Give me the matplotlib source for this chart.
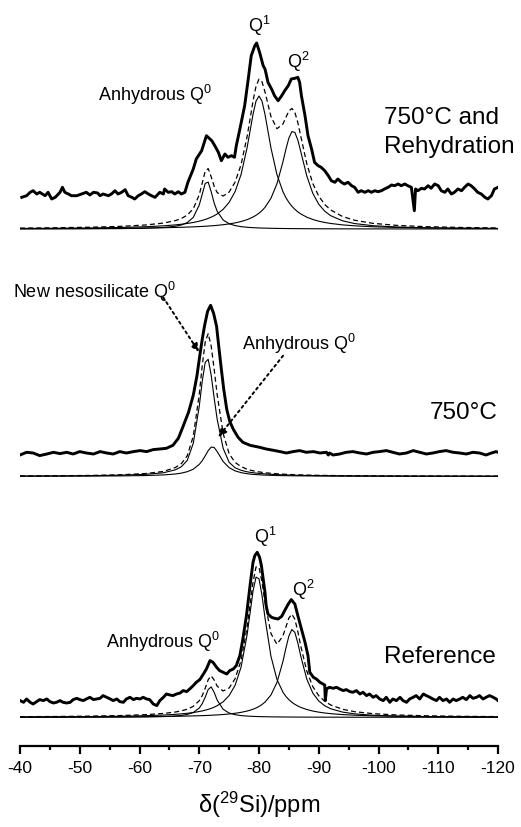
import matplotlib
matplotlib.use("Agg")
import matplotlib.pyplot as plt
from matplotlib.ticker import MultipleLocator

plt.rcParams['font.family'] = ['Liberation Sans', 'DejaVu Sans']
plt.rcParams['mathtext.fontset'] = 'custom'
plt.rcParams['mathtext.rm'] = 'Liberation Sans'
plt.rcParams['axes.unicode_minus'] = False

# ---------------- data (chemical shift in ppm, intensity in arbitrary units) ----------------
# common grid for the fitted curves
fit_ppm = [-40, -46, -52, -57, -61, -64, -66, -67, -68, -69, -70, -70.5, -71, -71.5, -72, -72.5,
           -73, -74, -75, -76, -77, -78, -78.5, -79, -79.5, -80, -80.5, -81, -82, -83, -84,
           -84.5, -85, -85.5, -86, -86.5, -87, -88, -89, -90, -91, -92, -94, -96, -99, -103,
           -108, -114, -120]

# --- 750 °C and rehydration ---
rehyd_exp_ppm = [-40.3, -41.1, -41.7, -42.2, -42.8, -43.3, -44.2, -44.7, -45.3, -45.9, -46.7, -47.1,
                 -47.5, -48.1, -48.6, -49.5, -50.3, -51.1, -51.7, -52.3, -53.0, -53.4, -53.9, -54.8,
                 -55.3, -55.9, -56.4, -57.0, -57.6, -58.1, -58.7, -59.2, -59.8, -60.3, -60.9, -61.5,
                 -62.0, -62.6, -63.4, -64.0, -64.2, -64.8, -65.4, -65.9, -66.5, -67.0, -67.6, -68.1,
                 -69.0, -69.5, -70.4, -71.2, -72.1, -72.6, -73.2, -73.7, -74.3, -74.8, -75.4, -75.9,
                 -76.2, -76.8, -77.6, -78.2, -78.7, -79.3, -79.6, -80.1, -80.7, -81.0, -81.2, -81.5,
                 -82.1, -82.6, -83.2, -83.8, -84.3, -84.9, -85.4, -86.0, -86.5, -86.8, -87.1, -87.7,
                 -88.2, -88.8, -89.3, -89.9, -90.4, -91.0, -91.6, -92.1, -92.7, -93.2, -93.8, -94.3,
                 -94.9, -95.5, -96.0, -96.6, -97.1, -97.7, -98.3, -98.8, -99.4, -99.9, -100.5, -101.0,
                 -101.6, -102.2, -102.7, -103.3, -103.8, -104.4, -104.9, -105.5, -106.0, -106.2,
                 -106.6, -107.2, -107.7, -108.3, -108.8, -109.4, -110.0, -110.5, -111.1, -111.6,
                 -112.2, -112.7, -113.3, -113.9, -114.4, -115.0, -115.5, -116.1, -116.6, -117.2,
                 -117.8, -118.3, -118.9, -119.4, -120.0]
rehyd_exp_int = [31.7, 33.3, 36.7, 38.3, 35, 36.7, 33.3, 36.7, 30, 31.7, 36.7, 41.7,
                 36.7, 35, 33.3, 33.3, 35, 36.7, 34, 36.7, 36, 33.3, 35, 33.3,
                 35, 38.3, 35, 36.7, 39.3, 33.3, 31.7, 30, 33.3, 35, 37.3, 35,
                 33.3, 31.7, 36.7, 35, 40, 36.7, 37.3, 35, 37.3, 35, 36.7, 46.7,
                 60, 70, 78.3, 93.3, 88.3, 83.3, 76.7, 68.3, 75, 71.7, 73.3, 71.7,
                 83.3, 100, 123.3, 150, 173.3, 183.3, 186, 176.7, 163.3, 160, 155, 146.7,
                 140, 133.3, 128.3, 133.3, 138.3, 143.3, 150, 150.7, 151.7, 146.7, 133.3, 113.3,
                 93.3, 80, 66.7, 63.3, 61.7, 58.3, 53.3, 48.3, 46.7, 50, 46.7, 45,
                 46.7, 43.3, 41.7, 36.7, 38.3, 36.7, 38.3, 36.7, 38.3, 37.3, 38.3, 40,
                 41.7, 44, 43.3, 45, 43.3, 45, 43.3, 41.7, 18.3, 40,
                 38.3, 40.7, 40, 43.3, 40.7, 45, 43.3, 38.3, 36.7, 40,
                 35, 36.7, 40, 38.3, 41.7, 45, 43.3, 40, 36.7, 35,
                 31.7, 30, 33.3, 40, 41.7]
rehyd_q0 = [0.08, 0.13, 0.22, 0.39, 0.75, 1.48, 2.73, 4.02, 6.45, 11.6, 24.0, 34.8, 45.6, 46.9, 37.2,
            25.9, 17.7, 9.0, 5.27, 3.41, 2.38, 1.74, 1.51, 1.33, 1.18, 1.05, 0.94, 0.85, 0.70, 0.59,
            0.50, 0.46, 0.43, 0.40, 0.37, 0.35, 0.33, 0.29, 0.26, 0.23, 0.21, 0.19, 0.16, 0.13, 0.11,
            0.08, 0.06, 0.04, 0.03]
rehyd_q1 = [0.52, 0.72, 1.05, 1.55, 2.26, 3.17, 4.11, 4.75, 5.54, 6.52, 7.82, 8.61, 9.53, 10.59, 11.83,
            13.3, 15.05, 19.7, 26.6, 37.4, 54.5, 81.1, 97.8, 114.7, 127.9, 133.0, 127.9, 114.7, 81.1,
            54.5, 37.4, 31.4, 26.6, 22.8, 19.7, 17.1, 15.05, 11.83, 9.53, 7.82, 6.52, 5.54, 4.11, 3.17,
            2.26, 1.55, 1.05, 0.72, 0.52]
rehyd_q2 = [0.29, 0.39, 0.54, 0.74, 0.99, 1.28, 1.55, 1.72, 1.92, 2.15, 2.43, 2.58, 2.75, 2.94, 3.16,
            3.39, 3.66, 4.28, 5.08, 6.10, 7.48, 9.34, 10.55, 11.98, 13.7, 15.8, 18.4, 21.6, 30.7, 45.2,
            67.0, 79.7, 90.9, 97.4, 96.6, 88.9, 77.2, 53.1, 35.7, 24.8, 17.8, 13.3, 8.15, 5.45, 3.34,
            2.0, 1.22, 0.76, 0.52]
rehyd_total = [0.89, 1.24, 1.81, 2.68, 4.0, 5.93, 8.39, 10.49, 13.91, 20.27, 34.25, 45.99, 57.88, 60.43,
               52.19, 42.59, 36.41, 32.98, 36.95, 46.91, 64.36, 92.18, 109.86, 128.01, 142.78, 149.85,
               147.24, 137.15, 112.5, 100.29, 104.9, 111.56, 117.93, 120.6, 116.67, 106.35, 92.58,
               65.22, 45.49, 32.85, 24.53, 19.03, 12.42, 8.75, 5.71, 3.63, 2.33, 1.52, 1.07]

# --- 750 °C ---
heat_exp_ppm = [-40.0, -41.1, -42.2, -43.3, -44.5, -45.6, -46.7, -47.8, -48.9, -50.0, -51.1, -52.3,
                -53.4, -54.5, -55.6, -56.7, -57.8, -59.0, -60.1, -61.2, -62.3, -63.4, -64.5, -65.6,
                -66.5, -67.3, -68.2, -69.0, -69.6, -70.1, -70.5, -70.9, -71.4, -71.9, -72.4, -72.9,
                -73.3, -73.7, -74.1, -74.6, -75.1, -75.7, -76.5, -77.3, -78.5, -80.1, -81.2, -82.4,
                -83.5, -84.6, -85.7, -86.8, -87.9, -89.1, -90.2, -91.3, -91.6, -91.8, -92.4, -93.5,
                -94.6, -95.7, -96.9, -98.0, -99.1, -100.2, -101.3, -102.4, -103.5, -104.7, -105.8,
                -106.9, -108.0, -109.1, -110.2, -111.3, -112.5, -113.6, -114.7, -115.8, -116.9,
                -118.0, -118.9, -119.7, -120.0]
heat_exp_int = [21.3, 24, 23.3, 20.7, 22.3, 24, 22.7, 24, 22.3, 24.7, 23.3, 22.3,
                24.7, 23.3, 22.3, 24.7, 23.3, 24.7, 25.7, 24.7, 26.7, 27.3, 28, 31,
                38, 50, 64, 81, 100, 121, 137, 151, 165, 171, 163, 150,
                128, 107, 87, 67, 55, 47, 39, 34, 31, 29, 27.3, 26,
                24.7, 23.3, 24.7, 25.7, 24, 24.7, 23.3, 24, 21.3, 23.3, 21.3, 22.3,
                24, 24.7, 23.3, 22.3, 24, 24.7, 25.7, 24, 22.3, 23.3, 25.7,
                24, 22.3, 23.3, 24.7, 25.7, 24, 23.3, 22.3, 24, 23.3,
                21.3, 23.3, 24.7, 24]
heat_neso = [0.24, 0.37, 0.64, 1.15, 2.0, 3.5, 6.5, 9.5, 16.0, 33.0, 70.0, 95.0, 114.0, 117.0, 101.0,
             78.0, 57.0, 28.0, 14.0, 8.5, 6.0, 4.5, 4.0, 3.6, 3.2, 2.9, 2.65, 2.4, 2.0, 1.7,
             1.46, 1.35, 1.26, 1.17, 1.09, 1.02, 0.96, 0.85, 0.76, 0.68, 0.61, 0.55, 0.46, 0.39, 0.31,
             0.24, 0.18, 0.13, 0.10]
heat_q0 = [0.09, 0.14, 0.23, 0.41, 0.75, 1.36, 2.30, 3.17, 4.6, 7.1, 11.9, 15.6, 20.5, 25.7, 29.2,
           28.8, 24.7, 14.8, 8.65, 5.42, 3.65, 2.60, 2.23, 1.94, 1.70, 1.50, 1.33, 1.19, 0.97, 0.80,
           0.67, 0.62, 0.57, 0.53, 0.50, 0.46, 0.43, 0.38, 0.34, 0.30, 0.27, 0.24, 0.20, 0.17, 0.13,
           0.10, 0.07, 0.05, 0.04]
heat_total = [0.33, 0.51, 0.87, 1.56, 2.75, 4.86, 8.8, 12.67, 20.6, 40.1, 81.9, 110.6, 134.5, 142.7,
              130.2, 106.8, 81.7, 42.8, 22.65, 13.9, 9.65, 7.1, 6.23, 5.54, 4.9, 4.4, 3.98, 3.59,
              2.97, 2.5, 2.13, 1.97, 1.83, 1.70, 1.59, 1.48, 1.39, 1.23, 1.10, 0.98, 0.88, 0.79,
              0.66, 0.56, 0.44, 0.34, 0.25, 0.18, 0.14]

# --- Reference ---
ref_exp_ppm = [-40.0, -40.6, -41.1, -41.7, -42.2, -42.8, -43.3, -43.9, -44.5, -45.0, -45.6, -46.1,
               -46.7, -47.2, -47.8, -48.4, -48.9, -49.5, -50.0, -50.6, -51.1, -51.7, -52.3, -52.8,
               -53.4, -53.9, -54.5, -55.1, -55.6, -56.2, -56.7, -57.3, -57.8, -58.4, -59.0, -59.5,
               -60.1, -60.6, -61.2, -61.7, -62.3, -62.9, -63.4, -64.0, -64.5, -65.1, -65.6, -66.2,
               -66.8, -67.3, -67.9, -68.4, -69.0, -69.5, -70.1, -70.7, -71.2, -71.8, -72.3, -72.9,
               -73.4, -74.0, -74.6, -75.1, -75.7, -76.2, -76.8, -77.3, -77.9, -78.5, -79.0, -79.3,
               -79.7, -80.1, -80.4, -80.7, -81.0, -81.2, -81.5, -82.1, -82.6, -83.2, -83.8, -84.3,
               -84.9, -85.4, -86.0, -86.5, -87.1, -87.7, -88.2, -88.5, -89.1, -89.6, -90.2, -90.7,
               -91.0, -91.1, -91.3, -91.8, -92.4, -93.0, -93.5, -94.1, -94.6, -95.2, -95.7, -96.3,
               -96.9, -97.4, -98.0, -98.5, -99.1, -99.6, -100.2, -100.8, -101.3, -101.9, -102.4,
               -103.0, -103.6, -104.1, -104.7, -105.2, -105.8, -106.3, -106.9, -107.5, -108.0,
               -108.6, -109.1, -109.7, -110.2, -110.8, -111.4, -111.9, -112.5, -113.0, -113.6,
               -114.1, -114.7, -115.3, -115.8, -116.4, -116.9, -117.5, -118.0, -118.6, -119.2,
               -119.7, -120.0]
ref_exp_int = [16.7, 15, 18.3, 15, 13.3, 15.7, 17.7, 16.7, 18.3, 15.7, 14.3, 15,
               16.7, 15, 14.3, 15, 17.7, 19, 17.7, 16.7, 18.3, 20, 17.7, 18.3,
               19, 21.7, 20, 18.3, 16.7, 18.3, 15.7, 15, 18.3, 20, 17.7, 19,
               18.3, 20, 18.3, 17.7, 13.3, 11.7, 16.7, 20, 23.3, 22.3, 21.7, 23.3,
               24.3, 26.7, 25.7, 28.3, 31.7, 35, 37.7, 43.3, 48.3, 56.7, 55, 50,
               46.7, 45, 43.3, 46.7, 48.3, 51.7, 61.7, 78.3, 101.7, 131.7, 155, 161.7,
               165, 160, 151.7, 138.3, 125, 111.7, 103.3, 100, 99, 98.3, 101, 106.7,
               113.3, 117.7, 113.3, 101.7, 88.3, 75, 61.7, 45, 40, 38.3, 35, 33.3,
               32.3, 16.7, 28.3, 30, 29, 30, 28.3, 26.7, 27.7, 25.7, 25, 26.7,
               23.3, 25, 21.7, 23.3, 20, 21.7, 18.3, 16.7, 20, 15, 18.3,
               16.7, 20, 16.7, 15, 18.3, 20, 21.7, 18.3, 23.3, 21.7,
               20, 18.3, 16.7, 20, 16.7, 18.3, 15, 18.3, 16.7, 18.3,
               20, 17.7, 21.7, 19, 20, 21.7, 18.3, 20, 21.7, 20,
               18.3, 16.7]
ref_q0 = [0.05, 0.07, 0.12, 0.21, 0.40, 0.75, 1.31, 1.87, 2.85, 4.80, 9.24, 13.6, 20.2, 27.8, 30.4,
          24.9, 17.2, 8.0, 4.28, 2.60, 1.73, 1.23, 1.06, 0.92, 0.81, 0.71, 0.63, 0.57, 0.46, 0.38,
          0.32, 0.30, 0.28, 0.26, 0.24, 0.22, 0.21, 0.18, 0.16, 0.15, 0.13, 0.12, 0.10, 0.08, 0.07,
          0.05, 0.04, 0.03, 0.02]
ref_q1 = [0.36, 0.50, 0.73, 1.09, 1.60, 2.26, 2.96, 3.43, 4.02, 4.78, 5.78, 6.39, 7.11, 7.95, 8.95,
          10.14, 11.59, 15.5, 21.7, 32.0, 50.2, 82.2, 104.1, 126.1, 140.2, 138.5, 122.1, 99.5, 61.0,
          38.0, 25.2, 20.9, 17.65, 15.05, 12.96, 11.27, 9.89, 7.77, 6.26, 5.15, 4.30, 3.65, 2.72,
          2.10, 1.50, 1.04, 0.70, 0.48, 0.35]
ref_q2 = [0.19, 0.25, 0.34, 0.47, 0.64, 0.82, 1.0, 1.11, 1.24, 1.39, 1.57, 1.67, 1.78, 1.91, 2.05,
          2.21, 2.38, 2.79, 3.32, 4.02, 4.95, 6.24, 7.08, 8.09, 9.32, 10.85, 12.75, 15.17, 22.3, 34.7,
          55.7, 69.1, 81.3, 87.8, 84.9, 74.3, 60.9, 38.2, 24.3, 16.3, 11.56, 8.55, 5.18, 3.45, 2.11,
          1.26, 0.77, 0.48, 0.33]
ref_total = [0.60, 0.82, 1.19, 1.77, 2.64, 3.83, 5.27, 6.41, 8.11, 10.97, 16.59, 21.66, 29.09, 37.66,
             41.4, 37.25, 31.17, 26.29, 29.3, 38.62, 56.88, 89.67, 112.24, 135.11, 150.33, 150.06,
             135.48, 115.24, 83.76, 73.08, 81.22, 90.3, 99.23, 103.11, 98.1, 85.79, 71.0, 46.15,
             30.72, 21.6, 15.99, 12.32, 8.0, 5.63, 3.68, 2.35, 1.51, 0.99, 0.70]

x_ticks = [-40, -50, -60, -70, -80, -90, -100, -110, -120]
x_tick_labels = ['-40', '-50', '-60', '-70', '-80', '-90', '-100', '-110', '-120']

# ---------------- layout ----------------
W, H = 521, 828
fig = plt.figure(figsize=(W / 100, H / 100), dpi=100)
ax_left, ax_right = 20 / W, 498 / W
ax_bottom = 1 - 747 / H
ax = fig.add_axes([ax_left, ax_bottom, ax_right - ax_left, 1 - ax_bottom])
ax.set_xlim(-40, -120)
ax.set_ylim(0, 747)

off_top, off_mid, off_bot = 517, 269.7, 28.7

thick = dict(color='black', lw=2.1, solid_joinstyle='round')
thin = dict(color='black', lw=0.8)
dash = dict(color='black', lw=0.9, ls=(0, (4, 2.5)))


def shifted(vals, off):
    return [v + off for v in vals]


# top spectrum
ax.plot(fit_ppm, shifted(rehyd_q0, off_top), **thin)
ax.plot(fit_ppm, shifted(rehyd_q1, off_top), **thin)
ax.plot(fit_ppm, shifted(rehyd_q2, off_top), **thin)
ax.plot(fit_ppm, shifted(rehyd_total, off_top), **dash)
ax.plot(rehyd_exp_ppm, shifted(rehyd_exp_int, off_top), **thick)

# middle spectrum
ax.plot(fit_ppm, shifted(heat_neso, off_mid), **thin)
ax.plot(fit_ppm, shifted(heat_q0, off_mid), **thin)
ax.plot(fit_ppm, shifted(heat_total, off_mid), **dash)
ax.plot(heat_exp_ppm, shifted(heat_exp_int, off_mid), **thick)

# bottom spectrum
ax.plot(fit_ppm, shifted(ref_q0, off_bot), **thin)
ax.plot(fit_ppm, shifted(ref_q1, off_bot), **thin)
ax.plot(fit_ppm, shifted(ref_q2, off_bot), **thin)
ax.plot(fit_ppm, shifted(ref_total, off_bot), **dash)
ax.plot(ref_exp_ppm, shifted(ref_exp_int, off_bot), **thick)

# axes styling
for s in ['top', 'left', 'right']:
    ax.spines[s].set_visible(False)
ax.spines['bottom'].set_linewidth(1.6)
ax.set_yticks([])
ax.set_xticks(x_ticks)
ax.set_xticklabels(x_tick_labels, fontsize=12.5)
ax.xaxis.set_minor_locator(MultipleLocator(5))
ax.tick_params(axis='x', which='major', direction='out', length=6, width=1.6, pad=4)
ax.tick_params(axis='x', which='minor', direction='out', length=3, width=1.6)

fig.text(259 / W, 1 - 805 / H, r'δ($\mathregular{^{29}}$Si)/ppm', fontsize=17,
         ha='center', va='center')

# annotations
lab = 13
big = 17.5
ax.text(-80.0, 721, r'Q$\mathregular{^1}$', fontsize=lab, ha='center', va='center')
ax.text(-86.5, 685, r'Q$\mathregular{^2}$', fontsize=lab, ha='center', va='center')
ax.text(-62.6, 652, r'Anhydrous Q$\mathregular{^0}$', fontsize=lab, ha='center', va='center')
ax.text(-101.0, 629, '750°C and', fontsize=big, ha='left', va='center')
ax.text(-101.0, 600, 'Rehydration', fontsize=big, ha='left', va='center', clip_on=False)

ax.text(-52.5, 455, r'New nesosilicate Q$\mathregular{^0}$', fontsize=lab, ha='center', va='center')
ax.text(-86.7, 403, r'Anhydrous Q$\mathregular{^0}$', fontsize=lab, ha='center', va='center')
ax.text(-120.0, 334, '750°C', fontsize=big, ha='right', va='center')

ax.text(-81.1, 210, r'Q$\mathregular{^1}$', fontsize=lab, ha='center', va='center')
ax.text(-87.4, 157, r'Q$\mathregular{^2}$', fontsize=lab, ha='center', va='center')
ax.text(-63.9, 105, r'Anhydrous Q$\mathregular{^0}$', fontsize=lab, ha='center', va='center')
ax.text(-119.7, 90, 'Reference', fontsize=big, ha='right', va='center')

arrow = dict(arrowstyle='-|>,head_length=0.5,head_width=0.22', color='black', lw=1.4,
             ls=(0, (1.2, 1.8)), shrinkA=0, shrinkB=0)
ax.annotate('', xy=(-69.98, 393.7), xytext=(-63.96, 448.7), arrowprops=arrow)
ax.annotate('', xy=(-73.16, 308.7), xytext=(-84.03, 390.3), arrowprops=arrow)

fig.savefig('out.png', dpi=100)
